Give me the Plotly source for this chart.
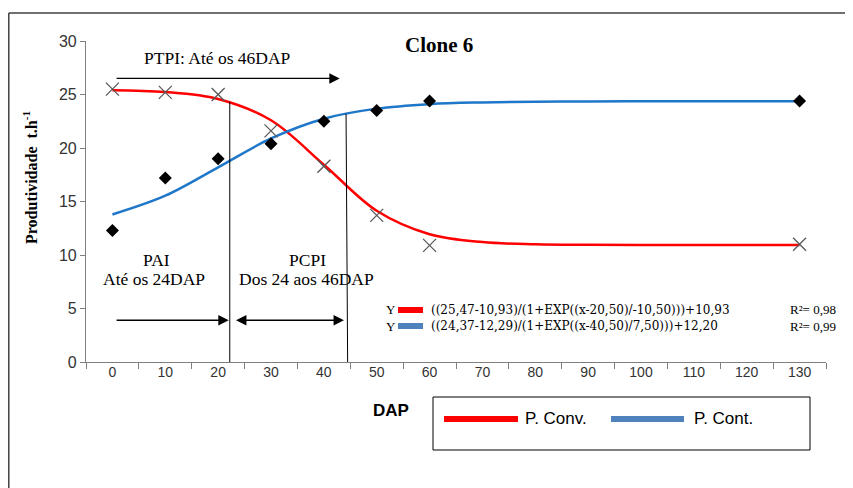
import plotly.graph_objects as go

# ---------------- data ----------------
dap_labels = ["0", "10", "20", "30", "40", "50", "60", "70", "80", "90", "100", "110", "120", "130"]
dap_ticks = [0, 10, 20, 30, 40, 50, 60, 70, 80, 90, 100, 110, 120, 130]

obs_dap = [0, 10, 20, 30, 40, 50, 60, 130]
conv_obs = [25.5, 25.2, 25.0, 21.6, 18.3, 13.7, 10.9, 11.0]
cont_obs = [12.3, 17.2, 19.0, 20.4, 22.5, 23.5, 24.4, 24.4]

fit_dap = [0, 10, 20, 30, 40, 50, 60, 70, 80, 90, 100, 110, 120, 130]
conv_fit = [25.40, 25.23, 24.58, 22.59, 18.44, 14.13, 11.94, 11.21, 11.00, 10.95, 10.93, 10.93, 10.93, 10.93]
cont_fit = [13.79, 15.54, 18.19, 20.89, 22.74, 23.68, 24.10, 24.26, 24.33, 24.35, 24.36, 24.37, 24.37, 24.37]

eq_conv = "((25,47-10,93)/(1+EXP((x-20,50)/-10,50)))+10,93"
eq_cont = "((24,37-12,29)/(1+EXP((x-40,50)/7,50)))+12,20"
r2_conv = "R²= 0,98"
r2_cont = "R²= 0,99"

SERIF = "Liberation Serif"
SANS = "Liberation Sans"
RED = "#FF0000"
BLUE = "#1F77C9"
BLUE_SW = "#4F81BD"

O = 8  # page offset of the figure (body margin)
W, H = 853 - O, 488 - O
L, T = 86 - O, 41 - O
R = W - (826 - O)
B = H - (362 - O)
PW, PH = W - L - R, H - T - B


def px(xp):
    return (xp - O - L) / PW


def py(yp):
    return (H - B - (yp - O)) / PH


fig = go.Figure()

fig.add_trace(go.Scatter(x=fit_dap, y=conv_fit, mode="lines", line=dict(color=RED, width=2.5, shape="spline"),
                         showlegend=False, hoverinfo="skip"))
fig.add_trace(go.Scatter(x=fit_dap, y=cont_fit, mode="lines", line=dict(color=BLUE, width=2.5, shape="spline"),
                         showlegend=False, hoverinfo="skip"))
fig.add_trace(go.Scatter(x=obs_dap, y=conv_obs, mode="markers", name="P. Conv.",
                         marker=dict(symbol="x-thin-open", size=13, color="#595959",
                                     line=dict(color="#595959", width=1.3)),
                         showlegend=False))
fig.add_trace(go.Scatter(x=obs_dap, y=cont_obs, mode="markers", name="P. Cont.",
                         marker=dict(symbol="diamond", size=10, color="black"), showlegend=False))
# axis carrying the tick labels
fig.add_trace(go.Scatter(x=[dap_ticks[0]], y=[0], xaxis="x2", mode="markers", marker=dict(opacity=0),
                         showlegend=False, hoverinfo="skip"))

# vertical limit lines
PAI_END = 22.2
PCPI_END = 44.2
fig.add_shape(type="line", x0=PAI_END, x1=PAI_END, y0=0, y1=24.3, xref="x", yref="y",
              line=dict(color="black", width=1))
fig.add_shape(type="line", x0=PCPI_END, x1=PCPI_END + 0.3, y0=23.2, y1=0, xref="x", yref="y",
              line=dict(color="black", width=1))

ann = []
# arrows
ann.append(dict(x=43.0, y=26.5, ax=0.5, ay=26.5, xref="x", yref="y", axref="x", ayref="y", text="",
                showarrow=True, arrowhead=2, arrowsize=1.6, arrowwidth=1.3, arrowcolor="black"))
ann.append(dict(x=22.0, y=3.9, ax=0.5, ay=3.9, xref="x", yref="y", axref="x", ayref="y", text="",
                showarrow=True, arrowhead=2, arrowsize=1.6, arrowwidth=1.3, arrowcolor="black"))
ann.append(dict(x=43.8, y=3.9, ax=23.1, ay=3.9, xref="x", yref="y", axref="x", ayref="y", text="",
                showarrow=True, arrowhead=2, startarrowhead=2, arrowside="end+start", arrowsize=1.6,
                startarrowsize=1.6, arrowwidth=1.3, arrowcolor="black"))


def txt(x, y, text, size, family=SERIF, xanchor="center", **kw):
    d = dict(x=px(x), y=py(y), xref="paper", yref="paper", text=text, showarrow=False,
             xanchor=xanchor, yanchor="middle", font=dict(family=family, size=size, color="black"))
    d.update(kw)
    ann.append(d)


# texts
txt(217, 58, "PTPI: Até os 46DAP", 17.5)
txt(156, 260, "PAI", 17.5)
txt(154, 279, "Até os 24DAP", 17.5)
txt(307, 260, "PCPI", 17.5)
txt(306, 279, "Dos 24 aos 46DAP", 17.5)
txt(439, 45, "<b>Clone 6</b>", 21)
txt(30, 178, "<b>Produtividade  t.h<sup>-1</sup></b>", 16, textangle=-90)
txt(391, 410, "<b>DAP</b>", 17, family=SANS)

# equation block (two lines each)
EQ_Y = 318
EQ_FONT = "DejaVu Serif"
txt(384, EQ_Y, "Y<br>Y", 13, family=SERIF, xanchor="left")
txt(429, EQ_Y, eq_conv + "<br>" + eq_cont, 12, family=EQ_FONT, xanchor="left", align="left")
txt(788, EQ_Y, r2_conv + "<br>" + r2_cont, 13, family=SERIF, xanchor="left", align="left")
fig.add_shape(type="line", xref="paper", yref="paper", x0=px(398), x1=px(423), y0=py(310), y1=py(310),
              line=dict(color=RED, width=6))
fig.add_shape(type="line", xref="paper", yref="paper", x0=px(398), x1=px(423), y0=py(326), y1=py(326),
              line=dict(color=BLUE_SW, width=6))

# bottom legend box
fig.add_shape(type="rect", xref="paper", yref="paper", x0=px(433), x1=px(810), y0=py(397), y1=py(450),
              line=dict(color="black", width=1), fillcolor="white")
fig.add_shape(type="line", xref="paper", yref="paper", x0=px(444), x1=px(518), y0=py(419), y1=py(419),
              line=dict(color=RED, width=6))
fig.add_shape(type="line", xref="paper", yref="paper", x0=px(611), x1=px(684), y0=py(419), y1=py(419),
              line=dict(color=BLUE_SW, width=6))
txt(523, 418, "P. Conv.", 17, family=SANS, xanchor="left")
txt(692, 418, "P. Cont.", 17, family=SANS, xanchor="left")

# outer frame
fig.add_shape(type="line", xref="paper", yref="paper", x0=px(8.8), x1=px(8.8), y0=py(13), y1=py(495),
              line=dict(color="#404040", width=1.5))
fig.add_shape(type="line", xref="paper", yref="paper", x0=px(8.8), x1=px(860), y0=py(13), y1=py(13),
              line=dict(color="#404040", width=1.5))

fig.update_layout(
    width=W, height=H, margin=dict(l=L, r=R, t=T, b=B),
    plot_bgcolor="white", paper_bgcolor="white",
    annotations=ann,
    xaxis=dict(range=[-5, 135], tickmode="linear", tick0=-5, dtick=10, showticklabels=False,
               ticks="outside", ticklen=6, tickcolor="#7f7f7f", showline=True, linecolor="#7f7f7f",
               linewidth=1.2, showgrid=False, zeroline=False, fixedrange=True),
    xaxis2=dict(range=[-5, 135], overlaying="x", side="bottom", tickmode="array", tickvals=dap_ticks,
                ticktext=dap_labels, ticks="", showline=False, showgrid=False, zeroline=False,
                tickfont=dict(family=SANS, size=14, color="#333333")),
    yaxis=dict(range=[0, 30], tickmode="linear", tick0=0, dtick=5, ticks="outside", ticklen=5,
               tickcolor="#7f7f7f", showline=True, linecolor="#7f7f7f", linewidth=1.2, showgrid=False,
               zeroline=False, tickfont=dict(family=SANS, size=16, color="#333333")),
    showlegend=False,
)

fig.write_html("out.html")
